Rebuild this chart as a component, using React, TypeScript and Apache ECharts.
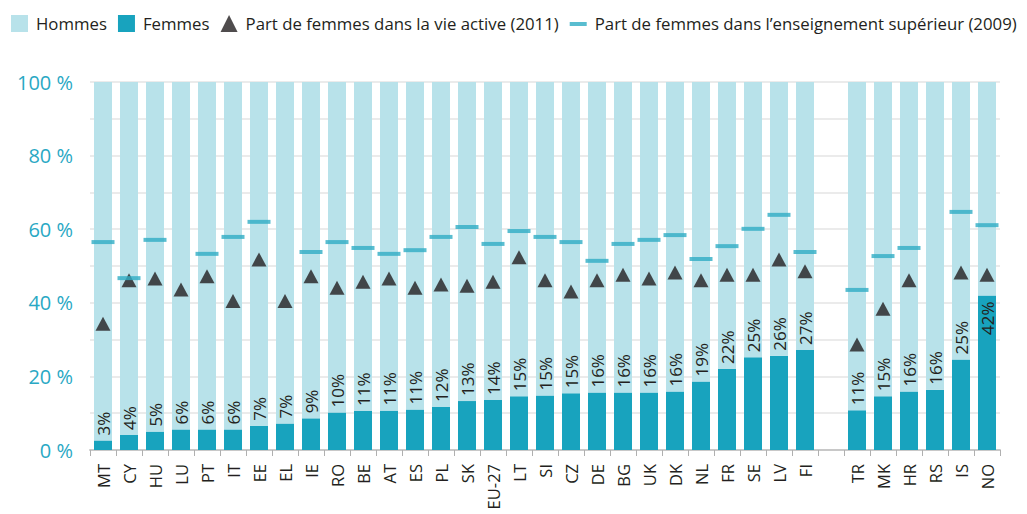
import React, { useEffect, useRef } from "react";
import * as echarts from "echarts";

const categories = [
  "MT", "CY", "HU", "LU", "PT", "IT", "EE", "EL", "IE", "RO", "BE", "AT", "ES", "PL", "SK", "EU-27",
  "LT", "SI", "CZ", "DE", "BG", "UK", "DK", "NL", "FR", "SE", "LV", "FI", "",
  "TR", "MK", "HR", "RS", "IS", "NO",
];

// Share of women among board members (%)
const femmes = [
  2.6, 4.1, 5.0, 5.6, 5.6, 5.6, 6.6, 7.2, 8.6, 10.2, 10.6, 10.7, 11.0, 11.7, 13.3, 13.6,
  14.6, 14.8, 15.4, 15.6, 15.6, 15.6, 15.9, 18.6, 22.0, 25.2, 25.6, 27.2, null,
  10.8, 14.6, 15.9, 16.4, 24.6, 42.0,
];

// Part de femmes dans la vie active (2011)
const vieActive = [
  34.3, 46.1, 46.6, 43.6, 47.2, 40.5, 51.8, 40.5, 47.2, 44.1, 45.7, 46.6, 44.1, 45.0, 44.6, 45.7,
  52.4, 46.1, 43.1, 46.1, 47.6, 46.6, 48.2, 46.1, 47.6, 47.6, 51.8, 48.6, null,
  28.7, 38.4, 46.1, null, 48.2, 47.6,
];

// Part de femmes dans l'enseignement supérieur (2009)
const enseignement = [
  56.5, 46.7, 57.1, null, 53.3, 57.9, 62.0, null, 53.8, 56.5, 54.9, 53.3, 54.3, 57.9, 60.6, 56.0,
  59.5, 57.9, 56.5, 51.4, 56.0, 57.1, 58.4, 51.9, 55.4, 60.1, 63.9, 53.8, null,
  43.5, 52.7, 54.9, null, 64.7, 61.1,
];

// Countries whose value label sits inside the top of the bar
const insideLabel = ["NO"];

const hommes = femmes.map((v) => (v == null ? null : 100 - v));

const yTicks = [0, 20, 40, 60, 80, 100];

const FONT = "'Open Sans', 'Noto Sans', sans-serif";
const DARK = "#231f20";
const TEAL = "#18a3be";
const LIGHT = "#b8e2ea";
const DASH = "#30adc4";

const dashIcon =
  "path://M0,0L0.01,0L0,0.01Z M0,7H17V11H0Z M16.99,17L17,17L17,16.99Z";

export default function App() {
  const ref = useRef<HTMLDivElement>(null);

  useEffect(() => {
    if (!ref.current) return;
    const chart = echarts.init(ref.current, undefined, { renderer: "svg" });
    const femmesData = femmes.map((v, i) =>
      insideLabel.includes(categories[i])
        ? { value: v, label: { position: "insideTop", rotate: 90, align: "right", distance: 6 } }
        : v
    );
    chart.setOption({
      animation: false,
      textStyle: { fontFamily: FONT },
      legend: {
        left: 6,
        top: 10,
        width: 1100,
        itemWidth: 17,
        itemHeight: 17,
        itemGap: 11,
        textStyle: { fontSize: 16.8, color: DARK, fontFamily: FONT, padding: [0, 0, 0, 3] },
        data: [
          { name: "Hommes", icon: "rect" },
          { name: "Femmes", icon: "rect" },
          { name: "Part de femmes dans la vie active (2011)", icon: "triangle" },
          { name: "Part de femmes dans l’enseignement supérieur (2009)", icon: dashIcon },
        ],
      },
      grid: { left: 90, right: 27, top: 82, bottom: 64, containLabel: false },
      xAxis: {
        type: "category",
        data: categories,
        axisLine: { lineStyle: { color: "#c8c8c8", width: 2 } },
        axisTick: { show: true, length: 6, lineStyle: { color: "#b0b0b0" }, interval: 0 },
        axisLabel: {
          interval: 0,
          rotate: 90,
          margin: 14,
          fontSize: 16.5,
          color: DARK,
          fontFamily: FONT,
        },
      },
      yAxis: {
        type: "value",
        min: 0,
        max: 100,
        interval: 10,
        axisLine: { show: false },
        axisTick: { show: false },
        splitLine: { lineStyle: { color: "#e4e4e4", width: 1.5 } },
        axisLabel: {
          margin: 17,
          fontSize: 20,
          color: "#29a8c4",
          fontFamily: FONT,
          formatter: (v: number) => (yTicks.includes(v) ? `${v} %` : ""),
        },
      },
      series: [
        {
          name: "Femmes",
          type: "bar",
          stack: "total",
          data: femmesData,
          barWidth: 18,
          itemStyle: { color: TEAL },
          label: {
            show: true,
            position: "top",
            rotate: 90,
            align: "left",
            verticalAlign: "middle",
            distance: 5,
            fontSize: 17,
            color: DARK,
            fontFamily: FONT,
            formatter: (p: any) => `${Math.round(p.value)}%`,
          },
        },
        {
          name: "Hommes",
          type: "bar",
          stack: "total",
          data: hommes,
          barWidth: 18,
          itemStyle: { color: LIGHT },
        },
        {
          name: "Part de femmes dans la vie active (2011)",
          type: "scatter",
          data: vieActive,
          symbol: "triangle",
          symbolSize: [15, 14],
          itemStyle: { color: DARK },
          z: 5,
        },
        {
          name: "Part de femmes dans l’enseignement supérieur (2009)",
          type: "scatter",
          data: enseignement,
          symbol: "rect",
          symbolSize: [23, 4],
          itemStyle: { color: DASH },
          z: 5,
        },
      ],
    });
    return () => chart.dispose();
  }, []);

  return (
    <div
      ref={ref}
      style={{ position: "absolute", left: 0, top: 0, width: 1027, height: 514 }}
    />
  );
}
